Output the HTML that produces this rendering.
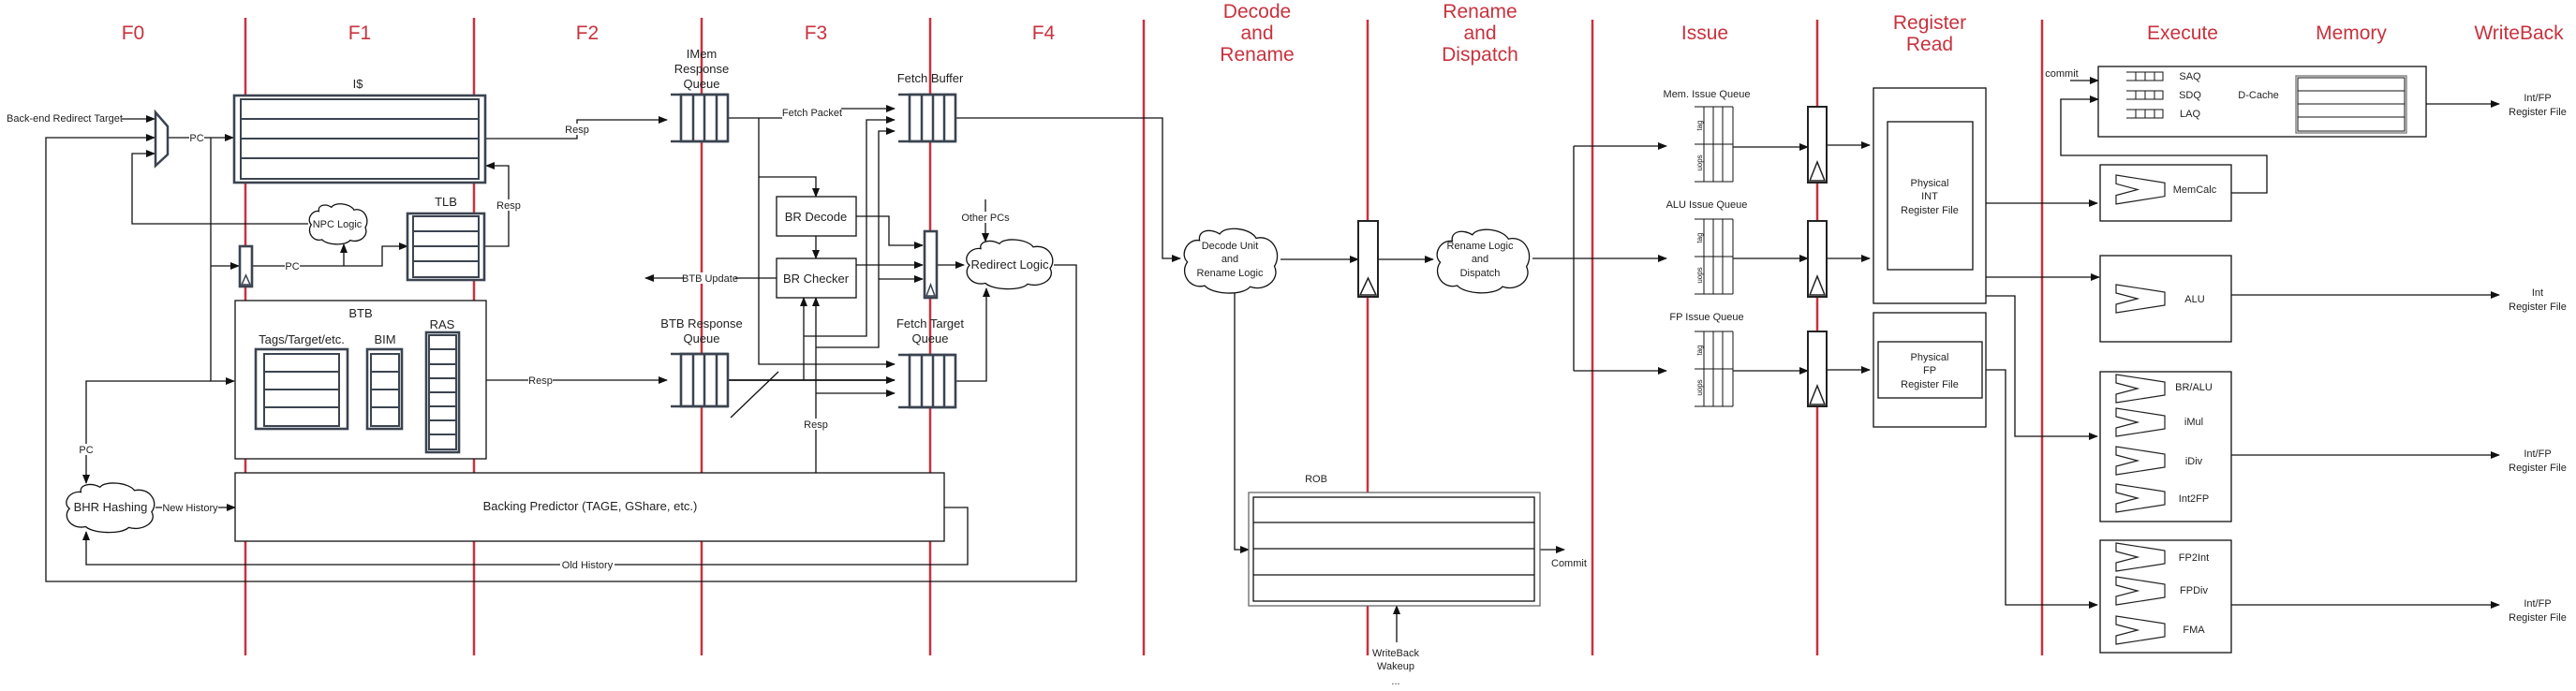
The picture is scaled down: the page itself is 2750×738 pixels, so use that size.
<!DOCTYPE html>
<html><head><meta charset="utf-8"><style>
html,body{margin:0;padding:0;background:#fff}
svg{display:block}
text{font-family:"Liberation Sans",sans-serif;fill:#222}
.st{fill:#c8323e;font-size:21px;text-anchor:middle}
.s{font-size:11px}
.m{font-size:13px}
.c{text-anchor:middle}
.l{fill:none;stroke:#111;stroke-width:1.3}
.f{fill:#fff;stroke:#3b4450;stroke-width:2.6}
.fi{fill:#fff;stroke:#3b4450;stroke-width:2}
.b{fill:#fff;stroke:#111;stroke-width:1.3}
.r{stroke:#c8323e;stroke-width:2.5}
</style></head><body>
<svg width="2750" height="738" viewBox="0 0 2750 738" xmlns="http://www.w3.org/2000/svg">
<defs>
<marker id="a" markerWidth="10" markerHeight="8" refX="9" refY="4" orient="auto" markerUnits="userSpaceOnUse"><path d="M0,0 L10,4 L0,8 z" fill="#111"/></marker>
<path id="cloud" d="M20,12 C8,10 0,25 8,32 C0,42 10,58 25,54 C32,62 62,64 70,55 C85,60 100,48 94,36 C102,24 92,6 76,10 C70,0 45,-2 40,6 C30,0 18,3 20,12 Z" fill="#fff" stroke="#111" stroke-width="1.3" vector-effect="non-scaling-stroke"/>
<path id="alu" d="M0,0 L52,8 L52,22 L0,30 L0,21 L23,15 L0,9 Z" fill="none" stroke="#222" stroke-width="1.2" vector-effect="non-scaling-stroke"/>
</defs>

<g class="r">
<line x1="262" y1="19" x2="262" y2="700"/><line x1="506" y1="19" x2="506" y2="700"/>
<line x1="749" y1="19" x2="749" y2="700"/><line x1="993" y1="19" x2="993" y2="700"/>
<line x1="1221" y1="21" x2="1221" y2="700"/><line x1="1460" y1="21" x2="1460" y2="700"/>
<line x1="1700" y1="21" x2="1700" y2="700"/><line x1="1940" y1="21" x2="1940" y2="700"/>
<line x1="2180" y1="21" x2="2180" y2="700"/>
</g>

<text class="st" x="142" y="42">F0</text><text class="st" x="384" y="42">F1</text>
<text class="st" x="627" y="42">F2</text><text class="st" x="871" y="42">F3</text>
<text class="st" x="1114" y="42">F4</text>
<text class="st" x="1342" y="19">Decode</text><text class="st" x="1342" y="42">and</text><text class="st" x="1342" y="65">Rename</text>
<text class="st" x="1580" y="19">Rename</text><text class="st" x="1580" y="42">and</text><text class="st" x="1580" y="65">Dispatch</text>
<text class="st" x="1820" y="42">Issue</text>
<text class="st" x="2060" y="31">Register</text><text class="st" x="2060" y="54">Read</text>
<text class="st" x="2330" y="42">Execute</text><text class="st" x="2510" y="42">Memory</text><text class="st" x="2689" y="42">WriteBack</text>

<g class="l">
<path d="M130,127 H165" marker-end="url(#a)"/>
<path d="M1125,283 H1149 V621 H49 V147 H165" marker-end="url(#a)"/>
<path d="M329,239 H141 V164 H165" marker-end="url(#a)"/>
<path d="M179,147 H249" marker-end="url(#a)"/>
<path d="M225,147 V407 H250" marker-end="url(#a)"/>
<path d="M225,284 H255" marker-end="url(#a)"/>
<path d="M225,407 H92 V516" marker-end="url(#a)"/>
<path d="M269,284 H408 V263 H435" marker-end="url(#a)"/>
<path d="M367,284 V261" marker-end="url(#a)"/>
<path d="M518,148 H616 V128 H712" marker-end="url(#a)"/>
<path d="M517,263 H543 V177 H519" marker-end="url(#a)"/>
<path d="M519,406 H712" marker-end="url(#a)"/>
<path d="M166,542 H251" marker-end="url(#a)"/>
<path d="M1008,542 H1033 V603 H92 V568" marker-end="url(#a)"/>
<path d="M777,126 H835"/><path d="M898,116 H955" marker-end="url(#a)"/>
<path d="M810,126 V389 H955" marker-end="url(#a)"/>
<path d="M810,189 H871 V210" marker-end="url(#a)"/>
<path d="M871,252 V276" marker-end="url(#a)"/>
<path d="M914,231 H949 V262 H985" marker-end="url(#a)"/>
<path d="M914,283 H985" marker-end="url(#a)"/>
<path d="M938,298 H985" marker-end="url(#a)"/>
<path d="M829,297 H689" marker-end="url(#a)"/>
<path d="M777,406 H955" marker-end="url(#a)" stroke-width="1.8"/>
<path d="M858,406 V318" marker-end="url(#a)"/>
<path d="M858,359 H925 V128 H955" marker-end="url(#a)"/>
<path d="M871,505 V318" marker-end="url(#a)"/>
<path d="M871,371 H938 V140 H955" marker-end="url(#a)"/>
<path d="M871,420 H955" marker-end="url(#a)"/>
<path d="M780,446 L831,397"/>
<path d="M1000,283 H1029" marker-end="url(#a)"/>
<path d="M1052,213 V258" marker-end="url(#a)"/>
<path d="M1020,407 H1053 V308" marker-end="url(#a)"/>
<path d="M1020,126 H1241 V276 H1260" marker-end="url(#a)"/>
<path d="M1367,277 H1450" marker-end="url(#a)"/>
<path d="M1471,277 H1530" marker-end="url(#a)"/>
<path d="M1318,312 V587 H1333" marker-end="url(#a)"/>
<path d="M1644,587 H1670" marker-end="url(#a)"/>
<path d="M1491,686 V647" marker-end="url(#a)"/>
<path d="M1636,276 H1779" marker-end="url(#a)"/>
<path d="M1680,156 V396"/>
<path d="M1680,156 H1779" marker-end="url(#a)"/>
<path d="M1680,396 H1779" marker-end="url(#a)"/>
<path d="M1850,157 H1930" marker-end="url(#a)"/>
<path d="M1850,276 H1930" marker-end="url(#a)"/>
<path d="M1850,396 H1930" marker-end="url(#a)"/>
<path d="M1950,155 H1996" marker-end="url(#a)"/>
<path d="M1950,276 H1996" marker-end="url(#a)"/>
<path d="M1950,395 H1996" marker-end="url(#a)"/>
<path d="M2120,217 H2239" marker-end="url(#a)"/>
<path d="M2120,296 H2241" marker-end="url(#a)"/>
<path d="M2120,316 H2151 V466 H2239" marker-end="url(#a)"/>
<path d="M2116,395 H2141 V646 H2239" marker-end="url(#a)"/>
<path d="M2210,86 H2240" marker-end="url(#a)"/>
<path d="M2382,206 H2420 V166 H2200 V106 H2240" marker-end="url(#a)"/>
<path d="M2590,111 H2668" marker-end="url(#a)"/>
<path d="M2382,315 H2668" marker-end="url(#a)"/>
<path d="M2382,486 H2668" marker-end="url(#a)"/>
<path d="M2382,646 H2668" marker-end="url(#a)"/>
</g>

<path d="M166,120 L179,135 L179,165 L166,177 Z" fill="#fff" stroke="#3b4450" stroke-width="2.5"/>

<rect class="f" x="250" y="102" width="268" height="93"/>
<rect class="fi" x="257" y="106" width="254" height="85"/>
<g stroke="#3b4450" stroke-width="2"><line x1="257" y1="127" x2="511" y2="127"/><line x1="257" y1="148" x2="511" y2="148"/><line x1="257" y1="169" x2="511" y2="169"/></g>
<text class="m c" x="382" y="94">I$</text>

<rect class="f" x="435" y="228" width="82" height="71"/>
<rect class="fi" x="441" y="231" width="70" height="65"/>
<g stroke="#3b4450" stroke-width="2"><line x1="441" y1="247" x2="511" y2="247"/><line x1="441" y1="263" x2="511" y2="263"/><line x1="441" y1="279" x2="511" y2="279"/></g>
<text class="m c" x="476" y="220">TLB</text>

<rect class="f" x="256" y="263" width="13" height="43"/>
<path d="M258,304 L262.5,294 L267,304 Z" fill="#fff" stroke="#3b4450" stroke-width="1.5"/>

<use href="#cloud" transform="translate(327,217) scale(0.67,0.72)"/>
<text class="s c" x="360" y="243">NPC Logic</text>

<rect class="b" x="251" y="321" width="268" height="169"/>
<text class="m c" x="385" y="339">BTB</text>
<text class="m c" x="322" y="367">Tags/Target/etc.</text>
<rect class="f" x="273" y="373" width="98" height="85"/>
<rect class="fi" x="282" y="378" width="80" height="77"/>
<g stroke="#3b4450" stroke-width="2"><line x1="282" y1="397" x2="362" y2="397"/><line x1="282" y1="416" x2="362" y2="416"/><line x1="282" y1="435" x2="362" y2="435"/></g>
<text class="m c" x="411" y="367">BIM</text>
<rect class="f" x="392" y="373" width="37" height="85"/>
<rect class="fi" x="396" y="378" width="30" height="77"/>
<g stroke="#3b4450" stroke-width="2"><line x1="396" y1="397" x2="426" y2="397"/><line x1="396" y1="416" x2="426" y2="416"/><line x1="396" y1="435" x2="426" y2="435"/></g>
<text class="m c" x="472" y="351">RAS</text>
<rect class="f" x="455" y="355" width="35" height="128"/>
<rect class="fi" x="458" y="358" width="29" height="122"/>
<g stroke="#3b4450" stroke-width="2"><line x1="458" y1="373" x2="487" y2="373"/><line x1="458" y1="389" x2="487" y2="389"/><line x1="458" y1="404" x2="487" y2="404"/><line x1="458" y1="419" x2="487" y2="419"/><line x1="458" y1="434" x2="487" y2="434"/><line x1="458" y1="449" x2="487" y2="449"/><line x1="458" y1="464" x2="487" y2="464"/></g>

<rect class="b" x="251" y="505" width="757" height="73"/>
<text class="m c" x="630" y="545">Backing Predictor (TAGE, GShare, etc.)</text>

<use href="#cloud" transform="translate(66,515) scale(1.02,0.88)"/>
<text class="m c" x="118" y="546">BHR Hashing</text>

<g>
<rect class="f" x="727" y="101" width="50" height="50"/>
<path d="M716,101 H777 M716,151 H777 M740,101 V151 M752,101 V151 M765,101 V151" stroke="#3b4450" stroke-width="2.5" fill="none"/>
<rect class="f" x="971" y="101" width="49" height="50"/>
<path d="M959,101 H1020 M959,151 H1020 M984,101 V151 M996,101 V151 M1008,101 V151" stroke="#3b4450" stroke-width="2.5" fill="none"/>
<rect class="f" x="727" y="378" width="50" height="56"/>
<path d="M716,378 H777 M716,434 H777 M740,378 V434 M752,378 V434 M765,378 V434" stroke="#3b4450" stroke-width="2.5" fill="none"/>
<rect class="f" x="971" y="379" width="49" height="56"/>
<path d="M959,379 H1020 M959,435 H1020 M984,379 V435 M996,379 V435 M1008,379 V435" stroke="#3b4450" stroke-width="2.5" fill="none"/>
</g>
<text class="m c" x="749" y="62">IMem</text><text class="m c" x="749" y="78">Response</text><text class="m c" x="749" y="94">Queue</text>
<text class="m c" x="993" y="88">Fetch Buffer</text>
<text class="m c" x="749" y="350">BTB Response</text><text class="m c" x="749" y="366">Queue</text>
<text class="m c" x="993" y="350">Fetch Target</text><text class="m c" x="993" y="366">Queue</text>

<rect class="b" x="829" y="210" width="85" height="42"/><text class="m c" x="871" y="236">BR Decode</text>
<rect class="b" x="829" y="276" width="85" height="42"/><text class="m c" x="871" y="302">BR Checker</text>

<rect class="f" x="987" y="247" width="13" height="71"/>
<path d="M989,316 L993.5,304 L998,316 Z" fill="#fff" stroke="#3b4450" stroke-width="1.5"/>

<use href="#cloud" transform="translate(1027,255) scale(1.0,0.88)"/>
<text class="m c" x="1078" y="287">Redirect Logic</text>

<use href="#cloud" transform="translate(1259,243) scale(1.08,1.15)"/>
<text class="s c" x="1313" y="266">Decode Unit</text><text class="s c" x="1313" y="280">and</text><text class="s c" x="1313" y="295">Rename Logic</text>

<rect x="1450" y="236" width="21" height="81" fill="#fff" stroke="#222" stroke-width="2"/>
<path d="M1452,315 L1460.5,297 L1469,315 Z" fill="#fff" stroke="#222" stroke-width="1.5"/>

<use href="#cloud" transform="translate(1529,244) scale(1.07,1.13)"/>
<text class="s c" x="1580" y="266">Rename Logic</text><text class="s c" x="1580" y="280">and</text><text class="s c" x="1580" y="295">Dispatch</text>

<text class="s c" x="1405" y="515">ROB</text>
<rect x="1333" y="526" width="311" height="121" fill="#fff" stroke="#666" stroke-width="1.3"/>
<rect x="1338" y="531" width="300" height="111" fill="#fff" stroke="#111" stroke-width="1.3"/>
<g stroke="#111" stroke-width="1.3"><line x1="1338" y1="558" x2="1638" y2="558"/><line x1="1338" y1="586" x2="1638" y2="586"/><line x1="1338" y1="614" x2="1638" y2="614"/></g>
<text class="s" x="1656" y="605">Commit</text>
<text class="s c" x="1490" y="701">WriteBack</text><text class="s c" x="1490" y="715">Wakeup</text><text class="s c" x="1490" y="731">...</text>

<text class="s c" x="1822" y="104">Mem. Issue Queue</text>
<text class="s c" x="1822" y="222">ALU Issue Queue</text>
<text class="s c" x="1822" y="342">FP Issue Queue</text>
<g stroke="#111" stroke-width="1" fill="none">
<path d="M1809,114 H1850 M1809,154 H1850 M1809,194 H1850 M1819,114 V194 M1829,114 V194 M1839,114 V194 M1850,114 V194"/>
<path d="M1809,234 H1850 M1809,274 H1850 M1809,314 H1850 M1819,234 V314 M1829,234 V314 M1839,234 V314 M1850,234 V314"/>
<path d="M1809,354 H1850 M1809,394 H1850 M1809,434 H1850 M1819,354 V434 M1829,354 V434 M1839,354 V434 M1850,354 V434"/>
</g>
<g>
<text transform="translate(1817,134) rotate(-90)" text-anchor="middle" style="font-size:8px">tag</text>
<text transform="translate(1817,174) rotate(-90)" text-anchor="middle" style="font-size:8px">uops</text>
<text transform="translate(1817,254) rotate(-90)" text-anchor="middle" style="font-size:8px">tag</text>
<text transform="translate(1817,294) rotate(-90)" text-anchor="middle" style="font-size:8px">uops</text>
<text transform="translate(1817,374) rotate(-90)" text-anchor="middle" style="font-size:8px">tag</text>
<text transform="translate(1817,414) rotate(-90)" text-anchor="middle" style="font-size:8px">uops</text>
</g>

<g fill="#fff" stroke="#222" stroke-width="2">
<rect x="1930" y="114" width="20" height="81"/><path d="M1932,193 L1940,173 L1948,193 Z" stroke-width="1.5"/>
<rect x="1930" y="236" width="20" height="81"/><path d="M1932,315 L1940,295 L1948,315 Z" stroke-width="1.5"/>
<rect x="1930" y="354" width="20" height="80"/><path d="M1932,432 L1940,412 L1948,432 Z" stroke-width="1.5"/>
</g>

<rect class="b" x="2000" y="94" width="120" height="230"/>
<rect class="b" x="2015" y="130" width="91" height="158"/>
<text class="s c" x="2060" y="199">Physical</text><text class="s c" x="2060" y="213">INT</text><text class="s c" x="2060" y="228">Register File</text>
<rect class="b" x="2000" y="334" width="120" height="122"/>
<rect class="b" x="2005" y="365" width="111" height="60"/>
<text class="s c" x="2060" y="385">Physical</text><text class="s c" x="2060" y="399">FP</text><text class="s c" x="2060" y="414">Register File</text>

<rect class="b" x="2240" y="71" width="350" height="75"/>
<text class="s c" x="2201" y="82">commit</text>
<g stroke="#111" stroke-width="1" fill="none">
<path d="M2270,77 H2309 V86 H2270 M2280,77 V86 M2290,77 V86 M2300,77 V86"/>
<path d="M2270,97 H2309 V106 H2270 M2280,97 V106 M2290,97 V106 M2300,97 V106"/>
<path d="M2270,117 H2309 V126 H2270 M2280,117 V126 M2290,117 V126 M2300,117 V126"/>
</g>
<text class="s c" x="2338" y="85">SAQ</text><text class="s c" x="2338" y="105">SDQ</text><text class="s c" x="2338" y="125">LAQ</text>
<text class="s c" x="2411" y="105">D-Cache</text>
<rect x="2451" y="81" width="118" height="61" fill="#fff" stroke="#777" stroke-width="1.3"/>
<rect x="2453" y="83" width="114" height="57" fill="#fff" stroke="#111" stroke-width="1"/>
<g stroke="#111"><line x1="2453" y1="97" x2="2567" y2="97"/><line x1="2453" y1="111" x2="2567" y2="111"/><line x1="2453" y1="125" x2="2567" y2="125"/></g>

<rect class="b" x="2242" y="176" width="140" height="60"/>
<use href="#alu" transform="translate(2259,187) scale(1,1.03)"/>
<text class="s c" x="2343" y="206">MemCalc</text>
<rect class="b" x="2242" y="273" width="140" height="92"/>
<use href="#alu" transform="translate(2259,304)"/>
<text class="s c" x="2343" y="323">ALU</text>
<rect class="b" x="2242" y="397" width="140" height="160"/>
<use href="#alu" transform="translate(2259,400)"/>
<use href="#alu" transform="translate(2259,436)"/>
<use href="#alu" transform="translate(2259,477)"/>
<use href="#alu" transform="translate(2259,517)"/>
<text class="s c" x="2342" y="417">BR/ALU</text><text class="s c" x="2342" y="454">iMul</text>
<text class="s c" x="2342" y="496">iDiv</text><text class="s c" x="2342" y="536">Int2FP</text>
<rect class="b" x="2242" y="577" width="140" height="120"/>
<use href="#alu" transform="translate(2259,580)"/>
<use href="#alu" transform="translate(2259,616)"/>
<use href="#alu" transform="translate(2259,658)"/>
<text class="s c" x="2342" y="599">FP2Int</text><text class="s c" x="2342" y="634">FPDiv</text><text class="s c" x="2342" y="676">FMA</text>

<text class="s c" x="2709" y="108">Int/FP</text><text class="s c" x="2709" y="123">Register File</text>
<text class="s c" x="2709" y="316">Int</text><text class="s c" x="2709" y="331">Register File</text>
<text class="s c" x="2709" y="488">Int/FP</text><text class="s c" x="2709" y="503">Register File</text>
<text class="s c" x="2709" y="648">Int/FP</text><text class="s c" x="2709" y="663">Register File</text>

<g>
<rect x="4" y="119" width="126" height="13" fill="#fff"/>
<text class="s" x="7" y="130">Back-end Redirect Target</text>
<rect x="202" y="141" width="16" height="12" fill="#fff"/><text class="s c" x="210" y="151">PC</text>
<rect x="304" y="278" width="16" height="12" fill="#fff"/><text class="s c" x="312" y="288">PC</text>
<rect x="84" y="474" width="16" height="12" fill="#fff"/><text class="s c" x="92" y="484">PC</text>
<rect x="603" y="132" width="26" height="12" fill="#fff"/><text class="s c" x="616" y="142">Resp</text>
<rect x="530" y="213" width="26" height="12" fill="#fff"/><text class="s c" x="543" y="223">Resp</text>
<rect x="564" y="400" width="26" height="12" fill="#fff"/><text class="s c" x="577" y="410">Resp</text>
<rect x="858" y="447" width="26" height="12" fill="#fff"/><text class="s c" x="871" y="457">Resp</text>
<rect x="173" y="536" width="60" height="12" fill="#fff"/><text class="s c" x="203" y="546">New History</text>
<rect x="598" y="597" width="58" height="12" fill="#fff"/><text class="s c" x="627" y="607">Old History</text>
<text class="s c" x="867" y="124">Fetch Packet</text>
<rect x="731" y="291" width="54" height="12" fill="#fff"/><text class="s c" x="758" y="301">BTB Update</text>
<rect x="1030" y="226" width="44" height="12" fill="#fff"/><text class="s c" x="1052" y="236">Other PCs</text>
</g>
</svg>
</body></html>
